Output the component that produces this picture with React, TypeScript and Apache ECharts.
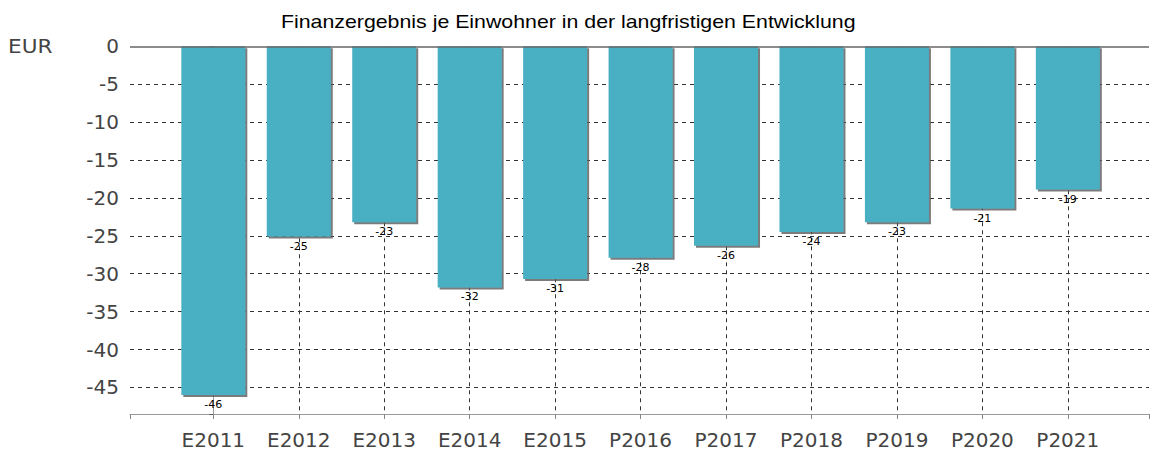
import React, { useEffect, useRef } from "react";
import * as echarts from "echarts";

const categories = ["E2011", "E2012", "E2013", "E2014", "E2015", "P2016", "P2017", "P2018", "P2019", "P2020", "P2021"];
const values = [-46.0, -25.1, -23.2, -31.8, -30.7, -27.9, -26.3, -24.5, -23.2, -21.4, -18.9];
const titleText = "Finanzergebnis je Einwohner in der langfristigen Entwicklung";
const unitText = "EUR";

const FONT = "DejaVu Sans";

export default function App() {
  const ref = useRef<HTMLDivElement>(null);
  useEffect(() => {
    if (!ref.current) return;
    const chart = echarts.init(ref.current, null, { renderer: "svg" });
    const option = {
      animation: false,
      backgroundColor: "#ffffff",
      graphic: [
        {
          type: "text",
          x: 281,
          y: 21.5,
          scaleX: 1.185,
          style: {
            text: titleText,
            fontFamily: "Liberation Sans",
            fontSize: 18,
            fill: "#000",
            verticalAlign: "middle",
          },
        },
        {
          type: "text",
          x: 8,
          y: 46,
          scaleX: 1.08,
          style: { text: unitText, fontFamily: FONT, fontSize: 20, fill: "#444", verticalAlign: "middle" },
        },
      ],
      grid: { left: 130, right: 0, top: 46.3, bottom: 39 },
      xAxis: {
        type: "value",
        min: -0.975,
        max: 10.95,
        splitNumber: 11,
        minInterval: 1,
        maxInterval: 1,
        axisLine: { show: true, onZero: false, lineStyle: { color: "#9a9a9a", width: 1 } },
        axisTick: { show: true, length: 5, lineStyle: { color: "#888" } },
        axisLabel: {
          margin: 16,
          fontFamily: FONT,
          fontSize: 20,
          color: "#444",
          formatter: (v: number) => {
            const i = Math.round(v);
            return Math.abs(v - i) < 1e-6 && i >= 0 && i < categories.length ? categories[i] : "";
          },
        },
        splitLine: {
          show: true,
          showMinLine: false,
          showMaxLine: false,
          lineStyle: { color: "#333", type: [4, 4], width: 1 },
        },
      },
      yAxis: {
        type: "value",
        min: -48.5,
        max: 0,
        splitNumber: 10,
        minInterval: 5,
        maxInterval: 5,
        axisLine: { show: true, lineStyle: { color: "#9a9a9a", width: 1 } },
        axisTick: { show: true, length: 4, lineStyle: { color: "#555" } },
        axisLabel: {
          margin: 11,
          fontFamily: FONT,
          fontSize: 20,
          color: "#444",
          formatter: (v: number) => (Math.abs(v / 5 - Math.round(v / 5)) < 1e-6 ? String(Math.round(v)) : ""),
        },
        splitLine: {
          show: true,
          showMinLine: false,
          showMaxLine: false,
          lineStyle: { color: "#333", type: [4, 4], width: 1 },
        },
      },
      series: [
        {
          type: "bar",
          barWidth: 64,
          data: values.map((v, i) => [i, v]),
          itemStyle: {
            color: "#4aafc3",
            shadowColor: "rgba(90,90,90,0.8)",
            shadowOffsetX: 2,
            shadowOffsetY: 2,
            shadowBlur: 0,
          },
          label: {
            show: true,
            position: "bottom",
            distance: 4,
            fontFamily: FONT,
            fontSize: 11,
            color: "#000",
            formatter: (p: any) => String(Math.round(p.value[1])),
          },
          markLine: {
            silent: true,
            symbol: "none",
            label: { show: false },
            lineStyle: { color: "#666", type: "solid", width: 1.5 },
            data: [{ yAxis: 0 }],
          },
        },
      ],
    };
    chart.setOption(option as any);
    return () => chart.dispose();
  }, []);
  return (
    <div
      ref={ref}
      style={{ position: "absolute", left: 0, top: 0, width: 1152, height: 453 }}
    />
  );
}
